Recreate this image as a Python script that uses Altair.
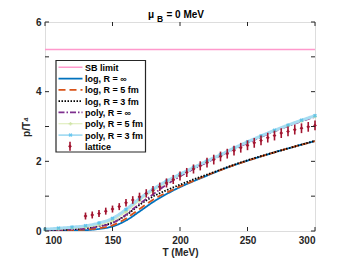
import altair as alt
import pandas as pd

# ---------------- data ----------------
T_curve = [100, 110, 120, 130, 140, 150, 160, 170, 180, 190, 200,
           210, 220, 230, 240, 250, 260, 270, 280, 290, 300]
sb_T = [100, 300]
sb_p = [5.21, 5.21]
log_inf = [0.005, 0.01, 0.015, 0.025, 0.06, 0.13, 0.30, 0.56, 0.83, 1.06, 1.26,
           1.43, 1.59, 1.75, 1.89, 2.02, 2.14, 2.26, 2.37, 2.48, 2.58]
log_5 = [0.01, 0.015, 0.025, 0.04, 0.08, 0.16, 0.36, 0.63, 0.90, 1.10, 1.28,
         1.44, 1.60, 1.75, 1.89, 2.02, 2.14, 2.26, 2.37, 2.48, 2.58]
log_3 = [0.02, 0.03, 0.05, 0.08, 0.14, 0.24, 0.45, 0.75, 0.99, 1.17, 1.33,
         1.48, 1.62, 1.76, 1.90, 2.03, 2.15, 2.26, 2.37, 2.48, 2.59]
poly_inf = [0.02, 0.03, 0.05, 0.07, 0.13, 0.23, 0.47, 0.78, 1.05, 1.33, 1.57,
            1.78, 1.97, 2.16, 2.35, 2.53, 2.70, 2.86, 3.01, 3.15, 3.28]
poly_5 = [0.04, 0.06, 0.08, 0.11, 0.18, 0.30, 0.55, 0.87, 1.15, 1.39, 1.60,
          1.80, 1.99, 2.17, 2.36, 2.54, 2.71, 2.87, 3.02, 3.16, 3.29]
poly_3 = [0.05, 0.08, 0.11, 0.15, 0.23, 0.36, 0.62, 0.93, 1.20, 1.43, 1.63,
          1.82, 2.01, 2.19, 2.38, 2.56, 2.73, 2.89, 3.04, 3.18, 3.31]

T_lat = [130, 135, 140, 145, 150, 155, 160, 165, 170, 175, 180, 185,
         190, 195, 200, 205, 210, 215, 220, 225, 230, 235, 240, 245,
         250, 255, 260, 265, 270, 275, 280, 285, 290, 295, 300]
p_lat = [0.43, 0.46, 0.50, 0.57, 0.63, 0.70, 0.81, 0.89, 0.98, 1.08, 1.17, 1.27,
         1.38, 1.48, 1.58, 1.68, 1.78, 1.87, 1.96, 2.05, 2.14, 2.22, 2.31, 2.39,
         2.46, 2.53, 2.60, 2.68, 2.74, 2.81, 2.86, 2.91, 2.95, 2.99, 3.03]
err_lat = [0.10, 0.10, 0.10, 0.10, 0.10, 0.10, 0.11, 0.11, 0.12, 0.12, 0.12, 0.12,
           0.13, 0.13, 0.13, 0.13, 0.13, 0.13, 0.14, 0.14, 0.14, 0.14, 0.14, 0.14,
           0.14, 0.14, 0.14, 0.14, 0.14, 0.14, 0.14, 0.14, 0.14, 0.14, 0.14]

x_ticks = [100, 150, 200, 250, 300]
y_ticks = [0, 1, 2, 3, 4, 5, 6]

names = ["SB limit", "log, R = \u221e", "log, R = 5 fm", "log, R = 3 fm",
         "poly, R = \u221e", "poly, R = 5 fm", "poly, R = 3 fm", "lattice"]
colors = ["#ff99cc", "#0072bd", "#d95319", "#000000",
          "#7e2f8e", "#dcebb4", "#a6dcf2", "#a2142f"]
dashes = [[1, 0], [1, 0], [7, 4], [1.5, 1.5], [6, 2, 1.5, 2], [1, 0], [1, 0], [1, 0]]
widths = [1.5, 1.8, 1.8, 1.8, 1.8, 1.2, 3.0, 1.5]

W, H = 270, 209
FONT = "Liberation Sans"

xscale = alt.Scale(domain=[100, 300], nice=False)
yscale = alt.Scale(domain=[0, 6], nice=False)

series_data = [(sb_T, sb_p), (T_curve, log_inf), (T_curve, log_5), (T_curve, log_3),
               (T_curve, poly_inf), (T_curve, poly_5), (T_curve, poly_3)]

layers = []
for i, (tt, pp) in enumerate(series_data):
    df = pd.DataFrame({"T": tt, "p": pp})
    layers.append(
        alt.Chart(df).mark_line(interpolate="monotone", color=colors[i],
                                strokeDash=dashes[i], strokeWidth=widths[i], clip=True)
        .encode(x=alt.X("T:Q", scale=xscale), y=alt.Y("p:Q", scale=yscale))
    )

# markers of the poly curves
df5 = pd.DataFrame({"T": T_curve, "p": poly_5})
layers.append(alt.Chart(df5).mark_point(shape="cross", size=14, filled=True,
                                         color="#c8e09a", opacity=0.8)
              .encode(x=alt.X("T:Q", scale=xscale), y=alt.Y("p:Q", scale=yscale)))
df3 = pd.DataFrame({"T": T_curve, "p": poly_3})
layers.append(alt.Chart(df3).mark_point(shape="cross", angle=45, size=16, filled=True,
                                         color="#4dbeee", opacity=0.8)
              .encode(x=alt.X("T:Q", scale=xscale), y=alt.Y("p:Q", scale=yscale)))

# lattice
lat = pd.DataFrame({"T": T_lat, "p": p_lat, "e": err_lat})
lat["lo"] = lat["p"] - lat["e"]
lat["hi"] = lat["p"] + lat["e"]
layers.append(alt.Chart(lat).mark_rule(color=colors[7], strokeWidth=1.6)
              .encode(x=alt.X("T:Q", scale=xscale), y=alt.Y("lo:Q", scale=yscale), y2="hi:Q"))
layers.append(alt.Chart(lat).mark_point(shape="diamond", size=14, filled=True,
                                         color=colors[7], opacity=1)
              .encode(x=alt.X("T:Q", scale=xscale), y=alt.Y("p:Q", scale=yscale)))

# inward ticks on all four sides
xt = pd.DataFrame({"T": x_ticks})
yt = pd.DataFrame({"p": y_ticks})
layers.append(alt.Chart(xt).mark_rule(color="#262626")
              .encode(x=alt.X("T:Q", scale=xscale), y=alt.value(H), y2=alt.value(H - 4)))
layers.append(alt.Chart(xt).mark_rule(color="#262626")
              .encode(x=alt.X("T:Q", scale=xscale), y=alt.value(0), y2=alt.value(4)))
layers.append(alt.Chart(yt).mark_rule(color="#262626")
              .encode(y=alt.Y("p:Q", scale=yscale), x=alt.value(0), x2=alt.value(4)))
layers.append(alt.Chart(yt).mark_rule(color="#262626")
              .encode(y=alt.Y("p:Q", scale=yscale), x=alt.value(W), x2=alt.value(W - 4)))

# axes (labels only)
axis_layer = alt.Chart(xt).mark_point(opacity=0).encode(
    x=alt.X("T:Q", scale=xscale, title="T (MeV)",
            axis=alt.Axis(values=x_ticks, ticks=False, domain=False, grid=False,
                          labelFont=FONT, labelFontWeight="bold", labelFontSize=10,
                          labelColor="#262626", labelPadding=4,
                          titleFont=FONT, titleFontWeight="bold", titleFontSize=10,
                          titleColor="#262626", titlePadding=2, format="d")),
    y=alt.Y("Tp:Q", scale=yscale, title="p/T\u2074",
            axis=alt.Axis(values=y_ticks, ticks=False, domain=False, grid=False,
                          labelFont=FONT, labelFontWeight="bold", labelFontSize=10,
                          labelColor="#262626", labelPadding=4,
                          titleFont=FONT, titleFontWeight="bold", titleFontSize=10,
                          titleColor="#262626", titlePadding=4)),
).transform_calculate(Tp="0")
layers.insert(0, axis_layer)

# legend box
leg_rows = pd.DataFrame({"name": names})
layers.append(alt.Chart(leg_rows.head(1)).mark_rect(fill="white", stroke="#262626",
                                                   strokeWidth=1.2)
              .encode(x=alt.value(11), x2=alt.value(100.5),
                      y=alt.value(38.5), y2=alt.value(130)))
for i, nm in enumerate(names):
    yy = 45.3 + i * 11.29
    one = pd.DataFrame({"name": [nm]})
    if nm == "lattice":
        layers.append(alt.Chart(one).mark_rule(color=colors[i], strokeWidth=1.6)
                      .encode(x=alt.value(25), y=alt.value(yy - 4.5), y2=alt.value(yy + 4.5)))
        layers.append(alt.Chart(one).mark_point(shape="diamond", size=14, filled=True,
                                                color=colors[i], opacity=1)
                      .encode(x=alt.value(25), y=alt.value(yy)))
    else:
        layers.append(alt.Chart(one).mark_rule(color=colors[i], strokeDash=dashes[i],
                                               strokeWidth=min(widths[i], 1.8))
                      .encode(x=alt.value(13.5), x2=alt.value(37.5), y=alt.value(yy)))
        if nm.startswith("poly, R = 5"):
            layers.append(alt.Chart(one).mark_point(shape="cross", size=14, filled=True,
                                                    color="#c8e09a")
                          .encode(x=alt.value(25.5), y=alt.value(yy)))
        if nm.startswith("poly, R = 3"):
            layers.append(alt.Chart(one).mark_point(shape="cross", angle=45, size=16,
                                                    filled=True, color="#4dbeee")
                          .encode(x=alt.value(25.5), y=alt.value(yy)))
    layers.append(alt.Chart(one).mark_text(align="left", baseline="middle", font=FONT,
                                           fontWeight="bold", fontSize=9, color="#000000")
                  .encode(x=alt.value(40), y=alt.value(yy + 0.5), text="name:N"))

# title  mu_B = 0 MeV
ttl = pd.DataFrame({"t": ["\u03bc", "B", "= 0 MeV"]})
layers.append(alt.Chart(ttl.iloc[[0]]).mark_text(align="left", baseline="alphabetic",
                                                font=FONT, fontWeight="bold", fontSize=10,
                                                color="#000000")
              .encode(x=alt.value(103), y=alt.value(-4), text="t:N"))
layers.append(alt.Chart(ttl.iloc[[1]]).mark_text(align="left", baseline="alphabetic",
                                                font=FONT, fontWeight="bold", fontSize=8.5,
                                                color="#000000")
              .encode(x=alt.value(112), y=alt.value(0), text="t:N"))
layers.append(alt.Chart(ttl.iloc[[2]]).mark_text(align="left", baseline="alphabetic",
                                                font=FONT, fontWeight="bold", fontSize=10,
                                                color="#000000")
              .encode(x=alt.value(121.5), y=alt.value(-4), text="t:N"))

chart = alt.layer(*layers).properties(
    width=W, height=H,
    autosize=alt.AutoSizeParams(type="none"),
    padding={"left": 37, "top": 14, "right": 26, "bottom": 30},
).configure_view(stroke="#262626", strokeWidth=1.2).configure(background="white")

chart.save("out.html", embed_options={"renderer": "svg", "actions": False})
